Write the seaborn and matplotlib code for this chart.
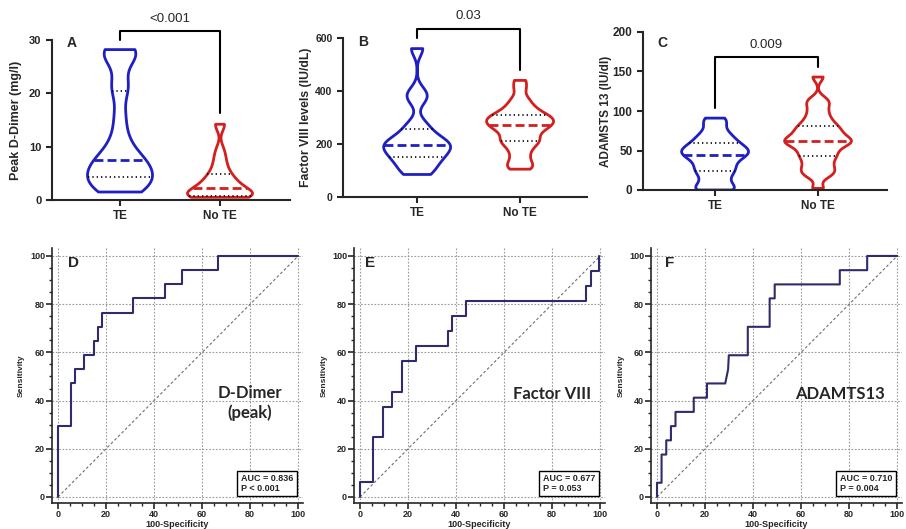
import numpy as np
import pandas as pd
import matplotlib
matplotlib.use("Agg")
import matplotlib.pyplot as plt
from matplotlib.ticker import MultipleLocator
import seaborn as sns

# --- DATA (values estimated from the figure) ---
groups = ["TE", "No TE"]

# Peak D-dimer (mg/l)
ddimer_te = [1.5, 1.9, 2.5, 3.1, 3.7, 4.3, 5.0, 5.7, 6.3, 7.0, 7.5,
             8.6, 10.0, 12.5, 16.0, 20.5, 22.0, 26.5, 27.3, 27.9, 28.2]
ddimer_note = [0.5, 0.52, 0.55, 0.6, 0.65, 0.7, 0.75, 0.8, 0.9, 1.1, 1.3, 1.5, 1.8, 2.0,
               2.3, 2.6, 2.9, 3.2, 3.6, 4.0, 4.4, 4.8, 5.6, 6.4, 7.3, 8.4, 9.6, 14.0, 14.2]

# Factor VIII (IU/dL)
f8_te = [85, 100, 125, 145, 152, 170, 183, 194, 200, 208, 222, 248, 276, 368, 395, 560]
f8_note = [105, 115, 130, 150, 170, 188, 200, 210, 218, 228, 240, 250, 258, 265, 270,
           276, 282, 288, 293, 298, 304, 310, 318, 328, 340, 355, 375, 410, 440]

# ADAMTS13 (IU/dl)
adamts_te = [0, 0, 5, 12, 19, 24, 28, 33, 38, 42, 44.5, 47, 50, 52, 55, 59,
             63, 68, 74, 84, 91]
adamts_note = [2, 17, 21, 25, 29, 34, 39, 43, 46, 50, 54, 57, 59, 61, 62, 64, 66, 69,
               72, 75, 78, 81, 85, 90, 96, 103, 110, 115, 143]

p_values = ["<0.001", "0.03", "0.009"]

# ROC curves: (100-specificity, sensitivity) points
roc_d_x = [0, 0, 5.3, 5.3, 7.2, 7.2, 11.0, 11.0, 14.9, 14.9, 16.5, 16.5, 18.5, 18.5,
           31.4, 31.4, 44.4, 44.4, 51.8, 51.8, 66.8, 66.8, 100]
roc_d_y = [0, 29.4, 29.4, 47.1, 47.1, 52.9, 52.9, 58.8, 58.8, 64.7, 64.7, 70.6, 70.6,
           76.5, 76.5, 82.4, 82.4, 88.2, 88.2, 94.1, 94.1, 100, 100]
roc_e_x = [0, 0, 5.5, 5.5, 9.4, 9.4, 13.4, 13.4, 17.4, 17.4, 23.2, 23.2, 36.7, 36.7,
           38.5, 38.5, 44.1, 44.1, 94.2, 94.2, 96.1, 96.1, 99.6, 99.6]
roc_e_y = [0, 6.25, 6.25, 25, 25, 37.5, 37.5, 43.75, 43.75, 56.25, 56.25, 62.5, 62.5,
           68.75, 68.75, 75, 75, 81.25, 81.25, 87.5, 87.5, 93.75, 93.75, 100]
roc_f_x = [0, 0, 1.9, 1.9, 3.85, 3.85, 5.8, 5.8, 7.7, 7.7, 15.3, 15.3, 20.8, 20.8,
           28.4, 29.6, 29.9, 37.8, 37.8, 46.9, 46.9, 49.0, 49.0, 76.1, 76.1, 87.5, 87.5, 100]
roc_f_y = [0, 5.9, 5.9, 17.6, 17.6, 23.5, 23.5, 29.4, 29.4, 35.3, 35.3, 41.2, 41.2, 47.1,
           47.1, 52.9, 58.8, 58.8, 70.6, 70.6, 82.4, 82.4, 88.2, 88.2, 94.1, 94.1, 100, 100]
roc_names = ["D-Dimer\n(peak)", "Factor VIII", "ADAMTS13"]
roc_stats = ["AUC = 0.836\nP < 0.001", "AUC = 0.677\nP = 0.053", "AUC = 0.710\nP = 0.004"]

# --- STYLE ---
sns.set_style("ticks")
plt.rcParams["font.family"] = ["Liberation Sans", "DejaVu Sans"]

W, H = 906, 529
fig = plt.figure(figsize=(W / 100, H / 100), dpi=100)


def px_axes(l, t, r, b):
    return fig.add_axes([l / W, 1 - b / H, (r - l) / W, (b - t) / H])


blue = "#1f1fc4"
red = "#d41f1f"
navy = "#2f2b6c"
palette = {"TE": blue, "No TE": red}


def violin_panel(ax, te, note, bws, ylim, step, ylabel, letter, bracket,
                 ptext, xlim, fs_tick, fs_label, fs_cat):
    # one call per group so each violin gets its own smoothing
    for grp, vals, bw in [("TE", te, bws[0]), ("No TE", note, bws[1])]:
        df = pd.DataFrame({"group": [grp] * len(vals), "value": vals})
        sns.violinplot(data=df, x="group", y="value", hue="group", order=groups,
                       hue_order=groups, palette=palette, fill=False, cut=0,
                       inner="quart", density_norm="width", width=0.65,
                       bw_adjust=bw, linewidth=2, legend=False, ax=ax)
    # median dashed in colour, quartiles dotted black
    for i, line in enumerate(ax.lines):
        if i % 3 == 1:
            line.set_linestyle((0, (3.2, 1.5)))
            line.set_linewidth(2)
        else:
            line.set_color("black")
            line.set_linestyle((0, (0.8, 1.8)))
            line.set_linewidth(1.2)
    ax.set_xlim(*xlim)
    ax.set_ylim(*ylim)
    ax.yaxis.set_major_locator(MultipleLocator(step))
    ax.set_xlabel("")
    ax.set_ylabel(ylabel, fontsize=fs_label, fontweight="bold")
    ax.yaxis.set_label_coords(-0.128, 0.5)
    sns.despine(ax=ax)
    for s in ["left", "bottom"]:
        ax.spines[s].set_linewidth(1.5)
    ax.tick_params(width=1.5, length=4, labelsize=fs_tick)
    ax.tick_params(axis="x", labelsize=fs_cat)
    for t in ax.get_xticklabels() + ax.get_yticklabels():
        t.set_fontweight("bold")
    ax.text(letter[1], letter[2], letter[0], transform=ax.transAxes, fontsize=10,
            fontweight="bold", ha="center", va="center")
    top, lleg, rleg, ty = bracket
    ax.plot([0, 0, 1, 1], [lleg, top, top, rleg], color="black", lw=1.5,
            clip_on=False)
    ax.text(0.5, ty, ptext, ha="center", va="center", fontsize=9.5)


axA = px_axes(52, 40, 290, 200)
violin_panel(axA, ddimer_te, ddimer_note, (0.42, 0.6), (0, 30), 10,
             "Peak D-Dimer (mg/l)", ("A", 0.084, 0.98),
             (31.7, 30.0, 16.3, 33.9), p_values[0], (-0.68, 1.70), 8, 9, 8.5)
axB = px_axes(343, 38, 587, 197)
violin_panel(axB, f8_te, f8_note, (0.4, 0.4), (0, 600), 200,
             "Factor VIII levels (IU/dL)", ("B", 0.082, 0.975),
             (634, 600, 479, 683), p_values[1], (-0.72, 1.65), 7.5, 8.8, 8.5)
axC = px_axes(643, 32, 887, 190)
violin_panel(axC, adamts_te, adamts_note, (0.45, 0.35), (0, 200), 50,
             "ADAMSTS 13 (IU/dl)", ("C", 0.078, 0.93),
             (168.4, 103.8, 155.7, 183.5), p_values[2], (-0.70, 1.67), 8.5, 8.5, 8.5)


def roc_panel(ax, xs, ys, letter, lx, name, nx, ny, stats, ylab_x):
    ax.set_xlim(-2.5, 102)
    ax.set_ylim(-2.5, 103.3)
    ax.set_axisbelow(True)
    ax.xaxis.set_major_locator(MultipleLocator(20))
    ax.yaxis.set_major_locator(MultipleLocator(20))
    ax.xaxis.set_minor_locator(MultipleLocator(5))
    ax.yaxis.set_minor_locator(MultipleLocator(5))
    ax.grid(True, which="major", ls=(0, (1.5, 1.5)), color="#9a9a9a", lw=0.8)
    ax.plot([0, 100], [0, 100], ls=(0, (2.5, 2)), color="#6f6f6f", lw=0.8)
    sns.lineplot(x=xs, y=ys, sort=False, estimator=None, color=navy, lw=1.5, ax=ax)
    sns.despine(ax=ax)
    for s in ["left", "bottom"]:
        ax.spines[s].set_linewidth(1.2)
    ax.tick_params(which="major", length=4, width=1.2, labelsize=6.5, pad=1)
    ax.tick_params(which="minor", length=2.5, width=1)
    for t in ax.get_xticklabels() + ax.get_yticklabels():
        t.set_fontweight("bold")
    ax.set_xlabel("100-Specificity", fontsize=6.5, fontweight="bold", labelpad=0.5)
    ax.set_ylabel("Sensitivity", fontsize=6, fontweight="bold")
    ax.yaxis.set_label_coords(ylab_x, 0.5)
    ax.text(lx, 97, letter, fontsize=11, fontweight="bold", ha="left", va="center")
    ax.text(nx, ny, name, fontsize=12, ha="center", va="center",
            family=["Lato", "DejaVu Sans"], fontweight="bold", linespacing=1.3)
    ax.text(76, 5.6, stats, fontsize=6.5, fontweight="bold", ha="left", va="center",
            linespacing=1.1,
            bbox=dict(boxstyle="square,pad=0.4", fc="white", ec="black", lw=1))


axD = px_axes(52, 248, 303, 503)
roc_panel(axD, roc_d_x, roc_d_y, "D", 4.2, roc_names[0], 80, 39, roc_stats[0], -0.11)
axE = px_axes(354, 248, 605, 503)
roc_panel(axE, roc_e_x, roc_e_y, "E", 2.1, roc_names[1], 80, 42.7, roc_stats[1], -0.104)
axF = px_axes(651, 248, 902, 503)
roc_panel(axF, roc_f_x, roc_f_y, "F", 3.3, roc_names[2], 76, 42.7, roc_stats[2], -0.104)

fig.savefig("out.png", dpi=100)
